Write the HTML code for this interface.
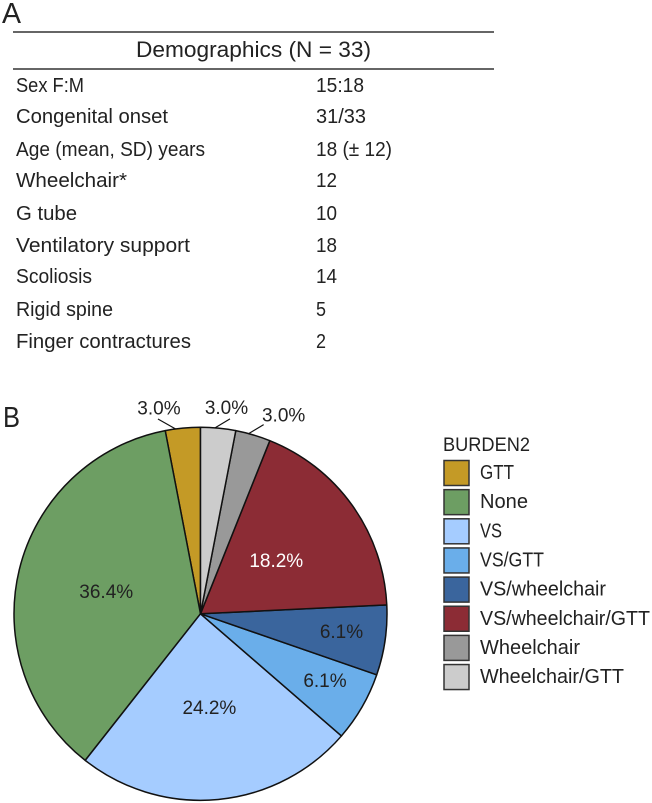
<!DOCTYPE html>
<html lang="en">
<head>
<meta charset="utf-8">
<title>Demographics and burden pie chart</title>
<style>
html,body{margin:0;padding:0;background:#fff;}
svg{display:block;}
text{font-family:"Liberation Sans","DejaVu Sans",sans-serif;fill:#222;}
.row{font-size:20px;}
</style>
</head>
<body>
<svg id="figure" width="652" height="803" viewBox="0 0 652 803" xmlns="http://www.w3.org/2000/svg">
  <text x="2" y="23" font-size="29" textLength="19" lengthAdjust="spacingAndGlyphs">A</text>
  <line x1="13" x2="494" y1="32" y2="32" stroke="#333" stroke-width="1.5"/>
  <text x="136" y="57" font-size="22.5" textLength="235" lengthAdjust="spacingAndGlyphs">Demographics (N = 33)</text>
  <line x1="13" x2="494" y1="69" y2="69" stroke="#333" stroke-width="1.5"/>

  <g class="row">
    <text x="16" y="92" textLength="68" lengthAdjust="spacingAndGlyphs">Sex F:M</text>
    <text x="316" y="92" textLength="48" lengthAdjust="spacingAndGlyphs">15:18</text>
    <text x="16" y="123" textLength="152" lengthAdjust="spacingAndGlyphs">Congenital onset</text>
    <text x="316" y="123" textLength="50" lengthAdjust="spacingAndGlyphs">31/33</text>
    <text x="16" y="156" textLength="189" lengthAdjust="spacingAndGlyphs">Age (mean, SD) years</text>
    <text x="316" y="156" textLength="76" lengthAdjust="spacingAndGlyphs">18 (± 12)</text>
    <text x="16" y="187" textLength="111" lengthAdjust="spacingAndGlyphs">Wheelchair*</text>
    <text x="316" y="187" textLength="21" lengthAdjust="spacingAndGlyphs">12</text>
    <text x="16" y="220" textLength="61" lengthAdjust="spacingAndGlyphs">G tube</text>
    <text x="316" y="220" textLength="21" lengthAdjust="spacingAndGlyphs">10</text>
    <text x="16" y="252" textLength="174" lengthAdjust="spacingAndGlyphs">Ventilatory support</text>
    <text x="316" y="252" textLength="21" lengthAdjust="spacingAndGlyphs">18</text>
    <text x="16" y="283" textLength="76" lengthAdjust="spacingAndGlyphs">Scoliosis</text>
    <text x="316" y="283" textLength="21" lengthAdjust="spacingAndGlyphs">14</text>
    <text x="16" y="316" textLength="97" lengthAdjust="spacingAndGlyphs">Rigid spine</text>
    <text x="316" y="316" textLength="10" lengthAdjust="spacingAndGlyphs">5</text>
    <text x="16" y="348" textLength="175" lengthAdjust="spacingAndGlyphs">Finger contractures</text>
    <text x="316" y="348" textLength="10" lengthAdjust="spacingAndGlyphs">2</text>
  </g>

  <text x="3" y="427" font-size="29" textLength="17" lengthAdjust="spacingAndGlyphs">B</text>
  <g id="pie"></g>
  <text x="443" y="451" font-size="19.5" textLength="87" lengthAdjust="spacingAndGlyphs">BURDEN2</text>
  <g id="legend"></g>
</svg>
<script>
// Chart data (participant counts, drawn counter-clockwise from 12 o'clock)
const categories = ["GTT", "None", "VS", "VS/GTT", "VS/wheelchair", "VS/wheelchair/GTT", "Wheelchair", "Wheelchair/GTT"];
const counts = [1, 12, 8, 2, 2, 6, 1, 1];
const printedLabels = ["3.0%", "36.4%", "24.2%", "6.1%", "6.1%", "18.2%", "3.0%", "3.0%"];

// Styling and layout, separate from the data
const colorByCategory = {
  "GTT": "#c49a26", "None": "#6d9e63", "VS": "#a5ccff", "VS/GTT": "#6aaeea",
  "VS/wheelchair": "#3a659d", "VS/wheelchair/GTT": "#8c2c35", "Wheelchair": "#999999", "Wheelchair/GTT": "#cccccc"
};
const legendTextWidth = {
  "GTT": 34, "None": 48, "VS": 22, "VS/GTT": 64, "VS/wheelchair": 126,
  "VS/wheelchair/GTT": 170, "Wheelchair": 100, "Wheelchair/GTT": 144
};
const labelStyle = {
  "None": { r: 97, shift: 0, fill: "#222" },
  "VS": { r: 93.5, shift: 0, fill: "#222" },
  "VS/GTT": { r: 141, shift: -2, fill: "#222" },
  "VS/wheelchair": { r: 142, shift: -1.3, fill: "#222" },
  "VS/wheelchair/GTT": { r: 93, shift: 0, fill: "#fff" },
  // Outside labels: leader meets the rim at a nudged angle; text sits off the leader's outer end
  "GTT": { leader: true, shift: -2.2, out: [-17.7, -10], text: [1, -11.5] },
  "Wheelchair/GTT": { leader: true, shift: -1, out: [15, -9], text: [-3.5, -12] },
  "Wheelchair": { leader: true, shift: -1.4, out: [15, -9], text: [20, -10] }
};

const NS = "http://www.w3.org/2000/svg";
const cx = 200.5, cy = 613.8, radius = 186.5;
const total = counts.reduce((a, b) => a + b, 0);
const pie = document.getElementById("pie");
const legend = document.getElementById("legend");

function angleOf(cumulative) { return -cumulative / total * 360; }
function polar(deg, r) {
  const t = deg * Math.PI / 180;
  return [cx + r * Math.sin(t), cy - r * Math.cos(t)];
}
function slug(s) { return s.toLowerCase().replace(/[^a-z0-9]+/g, "-"); }

let running = 0;
counts.forEach((v, i) => {
  const name = categories[i];
  const a0 = angleOf(running);
  const a1 = angleOf(running + v);
  running += v;
  const p0 = polar(a0, radius), p1 = polar(a1, radius);
  const large = Math.abs(a1 - a0) > 180 ? 1 : 0;
  const slice = document.createElementNS(NS, "path");
  slice.setAttribute("d", `M${cx} ${cy}L${p0[0]} ${p0[1]}A${radius} ${radius} 0 ${large} 0 ${p1[0]} ${p1[1]}Z`);
  slice.setAttribute("fill", colorByCategory[name]);
  slice.setAttribute("stroke", "#111");
  slice.setAttribute("stroke-width", "1.5");
  slice.setAttribute("stroke-linejoin", "round");
  
  
  pie.appendChild(slice);
});

running = 0;
counts.forEach((v, i) => {
  const name = categories[i];
  const mid = angleOf(running + v / 2);
  running += v;
  const st = labelStyle[name];
  const label = document.createElementNS(NS, "text");
  let pos;
  if (st.leader) {
    const rim = polar(mid + st.shift, radius);
    const outer = [rim[0] + st.out[0], rim[1] + st.out[1]];
    const leader = document.createElementNS(NS, "line");
    leader.setAttribute("x1", rim[0]);
    leader.setAttribute("y1", rim[1]);
    leader.setAttribute("x2", outer[0]);
    leader.setAttribute("y2", outer[1]);
    leader.setAttribute("stroke", "#111");
    leader.setAttribute("stroke-width", "1.2");
    
    
    pie.appendChild(leader);
    pos = [outer[0] + st.text[0], outer[1] + st.text[1]];
  } else {
    pos = polar(mid + st.shift, st.r);
  }
  label.textContent = printedLabels[i];
  label.setAttribute("x", pos[0]);
  label.setAttribute("y", pos[1] + 7);
  label.setAttribute("text-anchor", "middle");
  label.setAttribute("font-size", "19");
  label.setAttribute("style", "fill:" + (st.fill || "#222"));
  
  
  pie.appendChild(label);
});

categories.forEach((name, i) => {
  const y = 460.5 + i * 29.15;
  const swatch = document.createElementNS(NS, "rect");
  swatch.setAttribute("x", 444);
  swatch.setAttribute("y", y);
  swatch.setAttribute("width", 25);
  swatch.setAttribute("height", 25);
  swatch.setAttribute("fill", colorByCategory[name]);
  swatch.setAttribute("stroke", "#333");
  swatch.setAttribute("stroke-width", "1.5");
  
  
  legend.appendChild(swatch);
  const text = document.createElementNS(NS, "text");
  text.textContent = name;
  text.setAttribute("x", 480);
  text.setAttribute("y", y + 18.5);
  text.setAttribute("font-size", "20");
  text.setAttribute("textLength", legendTextWidth[name]);
  text.setAttribute("lengthAdjust", "spacingAndGlyphs");
  
  
  legend.appendChild(text);
});
</script>
</body>
</html>
